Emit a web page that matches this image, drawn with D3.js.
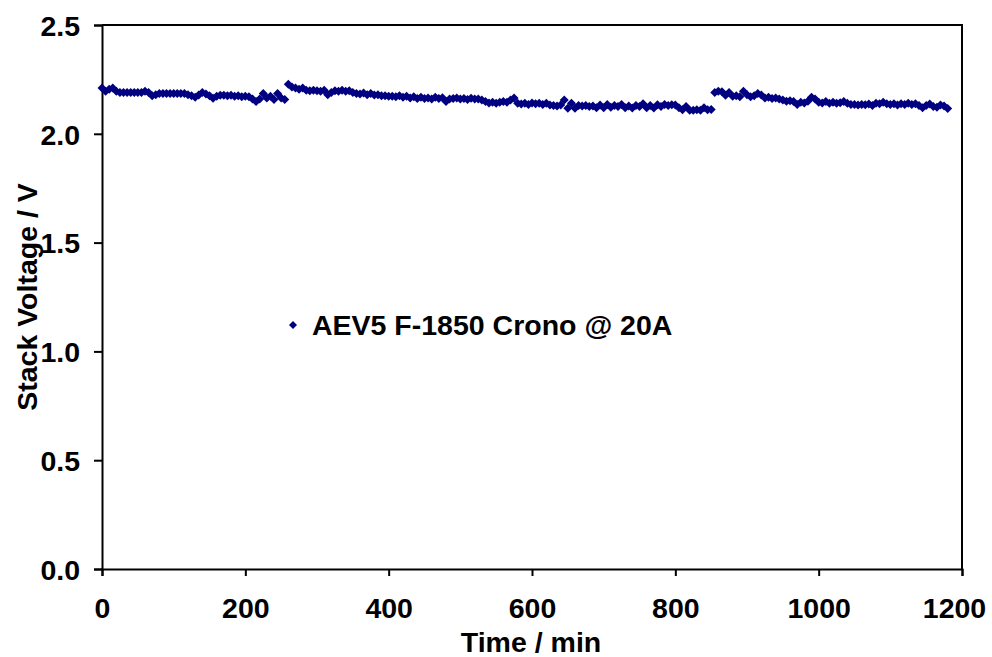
<!DOCTYPE html>
<html>
<head>
<meta charset="utf-8">
<script src="https://cdn.jsdelivr.net/npm/d3@7"></script>
<style>
  body { margin: 0; background: #fff; }
  text { font-family: "Liberation Sans", Arial, sans-serif; font-weight: bold; }
</style>
</head>
<body>
<div id="my_dataviz"></div>
<script>
// data: stack voltage sampled every 5 min
var timeStep = 5;
var voltage = [
  2.21, 2.195, 2.205, 2.21, 2.195, 2.19, 2.19, 2.19, 2.19, 2.19,
  2.19, 2.19, 2.195, 2.19, 2.175, 2.18, 2.185, 2.185, 2.185, 2.185,
  2.185, 2.185, 2.185, 2.185, 2.18, 2.175, 2.168, 2.178, 2.19, 2.183,
  2.175, 2.163, 2.172, 2.177, 2.177, 2.175, 2.177, 2.172, 2.175, 2.17,
  2.172, 2.17, 2.16, 2.148, 2.16, 2.185, 2.165, 2.172, 2.158, 2.185,
  2.165, 2.158, 2.228, 2.215, 2.21, 2.205, 2.21, 2.2, 2.198, 2.2,
  2.198, 2.195, 2.2, 2.18, 2.19, 2.198, 2.195, 2.2, 2.195, 2.198,
  2.19, 2.185, 2.183, 2.188, 2.18, 2.185, 2.178, 2.18, 2.175, 2.175,
  2.172, 2.172, 2.17, 2.175, 2.168, 2.172, 2.165, 2.17, 2.162, 2.168,
  2.162, 2.165, 2.16, 2.168, 2.162, 2.166, 2.148, 2.16, 2.162, 2.165,
  2.16, 2.162, 2.158, 2.163, 2.16, 2.16, 2.155, 2.148, 2.142, 2.145,
  2.14, 2.145, 2.148, 2.145, 2.155, 2.165, 2.14, 2.137, 2.14, 2.135,
  2.142, 2.138, 2.14, 2.135, 2.14, 2.132, 2.13, 2.128, 2.132, 2.155,
  2.117, 2.14, 2.117, 2.13, 2.128, 2.13, 2.125, 2.128, 2.12, 2.132,
  2.12, 2.135, 2.122, 2.13, 2.125, 2.135, 2.12, 2.128, 2.118, 2.13,
  2.125, 2.138, 2.12, 2.13, 2.118, 2.133, 2.125, 2.135, 2.13, 2.134,
  2.132, 2.12, 2.11, 2.125, 2.108, 2.108, 2.11, 2.108, 2.12, 2.11,
  2.112, 2.19, 2.195, 2.193, 2.177, 2.19, 2.172, 2.175, 2.17, 2.195,
  2.18, 2.17, 2.175, 2.185, 2.178, 2.165, 2.168, 2.162, 2.165, 2.16,
  2.155, 2.15, 2.152, 2.148, 2.135, 2.145, 2.142, 2.15, 2.168, 2.16,
  2.145, 2.142, 2.148, 2.14, 2.145, 2.14, 2.143, 2.148, 2.14, 2.135,
  2.135, 2.132, 2.135, 2.133, 2.137, 2.13, 2.14, 2.138, 2.145, 2.138,
  2.135, 2.138, 2.132, 2.138, 2.135, 2.14, 2.135, 2.138, 2.13, 2.12,
  2.13, 2.137, 2.125, 2.122, 2.132, 2.128, 2.116
];
var xTicks = [0, 200, 400, 600, 800, 1000, 1200];
var yTicks = [0.0, 0.5, 1.0, 1.5, 2.0, 2.5];
var seriesName = "AEV5 F-1850 Crono @ 20A";

var data = voltage.map(function(v, i) { return {t: i * timeStep, v: v}; });

// plot box in page pixels
var W = 992, H = 657;
var plotL = 102, plotR = 962, plotT = 25, plotB = 569;
var fontSize = 28.5;

var svg = d3.select("#my_dataviz")
  .append("svg")
    .attr("width", W)
    .attr("height", H);

var x = d3.scaleLinear().domain([0, 1200]).range([plotL, plotR]);
var y = d3.scaleLinear().domain([0, 2.5]).range([plotB, plotT]);

// frame (top and right edges)
svg.append("path")
  .attr("d", "M" + plotL + "," + plotT + "H" + plotR + "V" + plotB)
  .attr("fill", "none")
  .attr("stroke", "#000")
  .attr("stroke-width", 2);

// X axis
var gx = svg.append("g")
  .attr("transform", "translate(0," + plotB + ")")
  .call(d3.axisBottom(x).tickValues(xTicks).tickSize(7).tickPadding(22)
    .tickFormat(d3.format("d")));

// Y axis
var gy = svg.append("g")
  .attr("transform", "translate(" + plotL + ",0)")
  .call(d3.axisLeft(y).tickValues(yTicks).tickSize(8).tickPadding(14)
    .tickFormat(d3.format(".1f")));

[gx, gy].forEach(function(g) {
  g.select(".domain").attr("stroke-width", 2);
  g.selectAll(".tick line").attr("stroke-width", 2);
  g.selectAll(".tick text")
    .attr("font-size", fontSize)
    .attr("font-family", "'Liberation Sans', Arial, sans-serif")
    .attr("font-weight", "bold")
    .attr("fill", "#000");
});
gy.selectAll(".tick text").attr("dy", "0.36em");
// last x label is pulled in so it stays on the page
gx.selectAll(".tick text").filter(function(d) { return d === 1200; }).attr("dx", -8);

// axis titles
svg.append("text")
  .attr("x", 531)
  .attr("y", 652)
  .attr("text-anchor", "middle")
  .attr("font-size", fontSize)
  .text("Time / min");

svg.append("text")
  .attr("transform", "translate(37,297) rotate(-90)")
  .attr("text-anchor", "middle")
  .attr("font-size", fontSize)
  .text("Stack Voltage / V");

// diamond markers
var diamond = "M0,-4.5L4.5,0L0,4.5L-4.5,0Z";
svg.append("g")
  .selectAll("path")
  .data(data)
  .enter()
  .append("path")
    .attr("d", diamond)
    .attr("transform", function(d) { return "translate(" + x(d.t) + "," + y(d.v) + ")"; })
    .attr("fill", "#000080");

// legend
svg.append("path")
  .attr("d", "M0,-4L4,0L0,4L-4,0Z")
  .attr("transform", "translate(293,325)")
  .attr("fill", "#000080");
svg.append("text")
  .attr("x", 312)
  .attr("y", 335)
  .attr("font-size", fontSize)
  .text(seriesName);
</script>
</body>
</html>
